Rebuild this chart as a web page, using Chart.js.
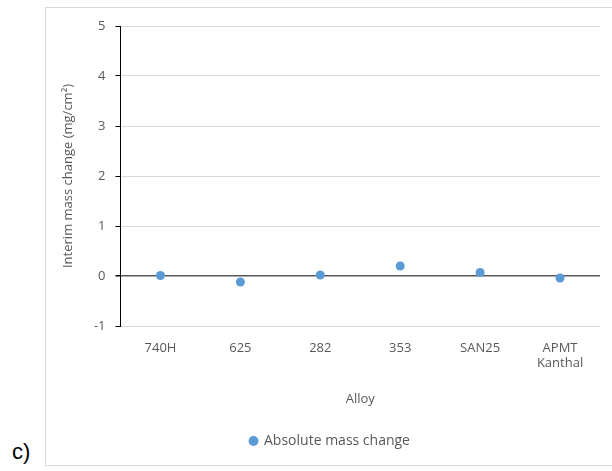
<!DOCTYPE html>
<html>
<head>
<meta charset="utf-8">
<script src="https://cdn.jsdelivr.net/npm/chart.js@4"></script>
<style>
  html, body { margin: 0; padding: 0; background: #fff; }
  #wrap { position: relative; width: 612px; height: 471px; overflow: hidden; }
  #frame { position: absolute; left: 45px; top: 7px; width: 580px; height: 459px; border: 1px solid #d9d9d9; box-sizing: border-box; }
  #lbl { position: absolute; left: 12px; top: 439px; font-family: "Liberation Sans", Arial, sans-serif; font-size: 22px; color: #000; }
  canvas { position: absolute; left: 0; top: 0; }
</style>
</head>
<body>
<div id="wrap">
  <div id="frame"></div>
  <div id="lbl">c)</div>
  <canvas id="c" width="612" height="471"></canvas>
</div>
<script>
const categories = [["740H"], ["625"], ["282"], ["353"], ["SAN25"], ["APMT", "Kanthal"]];
const absoluteMassChange = [0.01, -0.12, 0.02, 0.2, 0.07, -0.04];
const yTicks = [-1, 0, 1, 2, 3, 4, 5];
const seriesName = "Absolute mass change";
const xTitle = "Alloy";
const yTitle = "Interim mass change (mg/cm²)";

const FONT = "'Open Sans', Lato, sans-serif";
const TXT = "#595959";

new Chart(document.getElementById("c"), {
  type: "line",
  data: {
    labels: categories,
    datasets: [{
      label: seriesName,
      data: absoluteMassChange,
      showLine: false,
      pointRadius: 4.5,
      pointHoverRadius: 4.5,
      pointBackgroundColor: "#5b9bd5",
      pointBorderColor: "#5b9bd5",
      pointBorderWidth: 0,
      pointStyle: "circle"
    }]
  },
  options: {
    responsive: false,
    animation: false,
    devicePixelRatio: 1,
    layout: { padding: { left: 60, right: 12, top: 26, bottom: 13 } },
    plugins: {
      legend: {
        position: "bottom",
        labels: {
          usePointStyle: true,
          pointStyle: "circle",
          boxWidth: 7,
          boxHeight: 7,
          padding: 10,
          color: TXT,
          font: { family: FONT, size: 14 }
        }
      },
      tooltip: { enabled: false }
    },
    scales: {
      x: {
        type: "category",
        offset: true,
        grid: { display: false, drawTicks: false },
        border: { display: false },
        ticks: { color: TXT, font: { family: FONT, size: 13 }, padding: 14, maxRotation: 0, autoSkip: false },
        title: { display: true, text: xTitle, color: TXT, font: { family: FONT, size: 13 }, padding: { top: 10, bottom: 17 } },
        afterFit: (s) => { s.height = 98; }
      },
      y: {
        min: -1,
        max: 5,
        afterBuildTicks: (s) => { s.ticks = yTicks.map(v => ({ value: v })); },
        grid: {
          color: (ctx) => (ctx.tick && ctx.tick.value === 0) ? "#595959" : "#d9d9d9",
          lineWidth: (ctx) => (ctx.tick && ctx.tick.value === 0) ? 1.5 : 1,
          tickColor: "#000",
          tickLength: 5,
          drawTicks: true
        },
        border: { display: true, color: "#000", width: 1 },
        ticks: { color: TXT, font: { family: FONT, size: 13 }, padding: 10 },
        title: { display: true, text: yTitle, color: TXT, font: { family: FONT, size: 13 }, padding: { top: 0, bottom: 8 } },
        afterFit: (s) => { s.width = 60.5; }
      }
    }
  }
});
</script>
</body>
</html>
